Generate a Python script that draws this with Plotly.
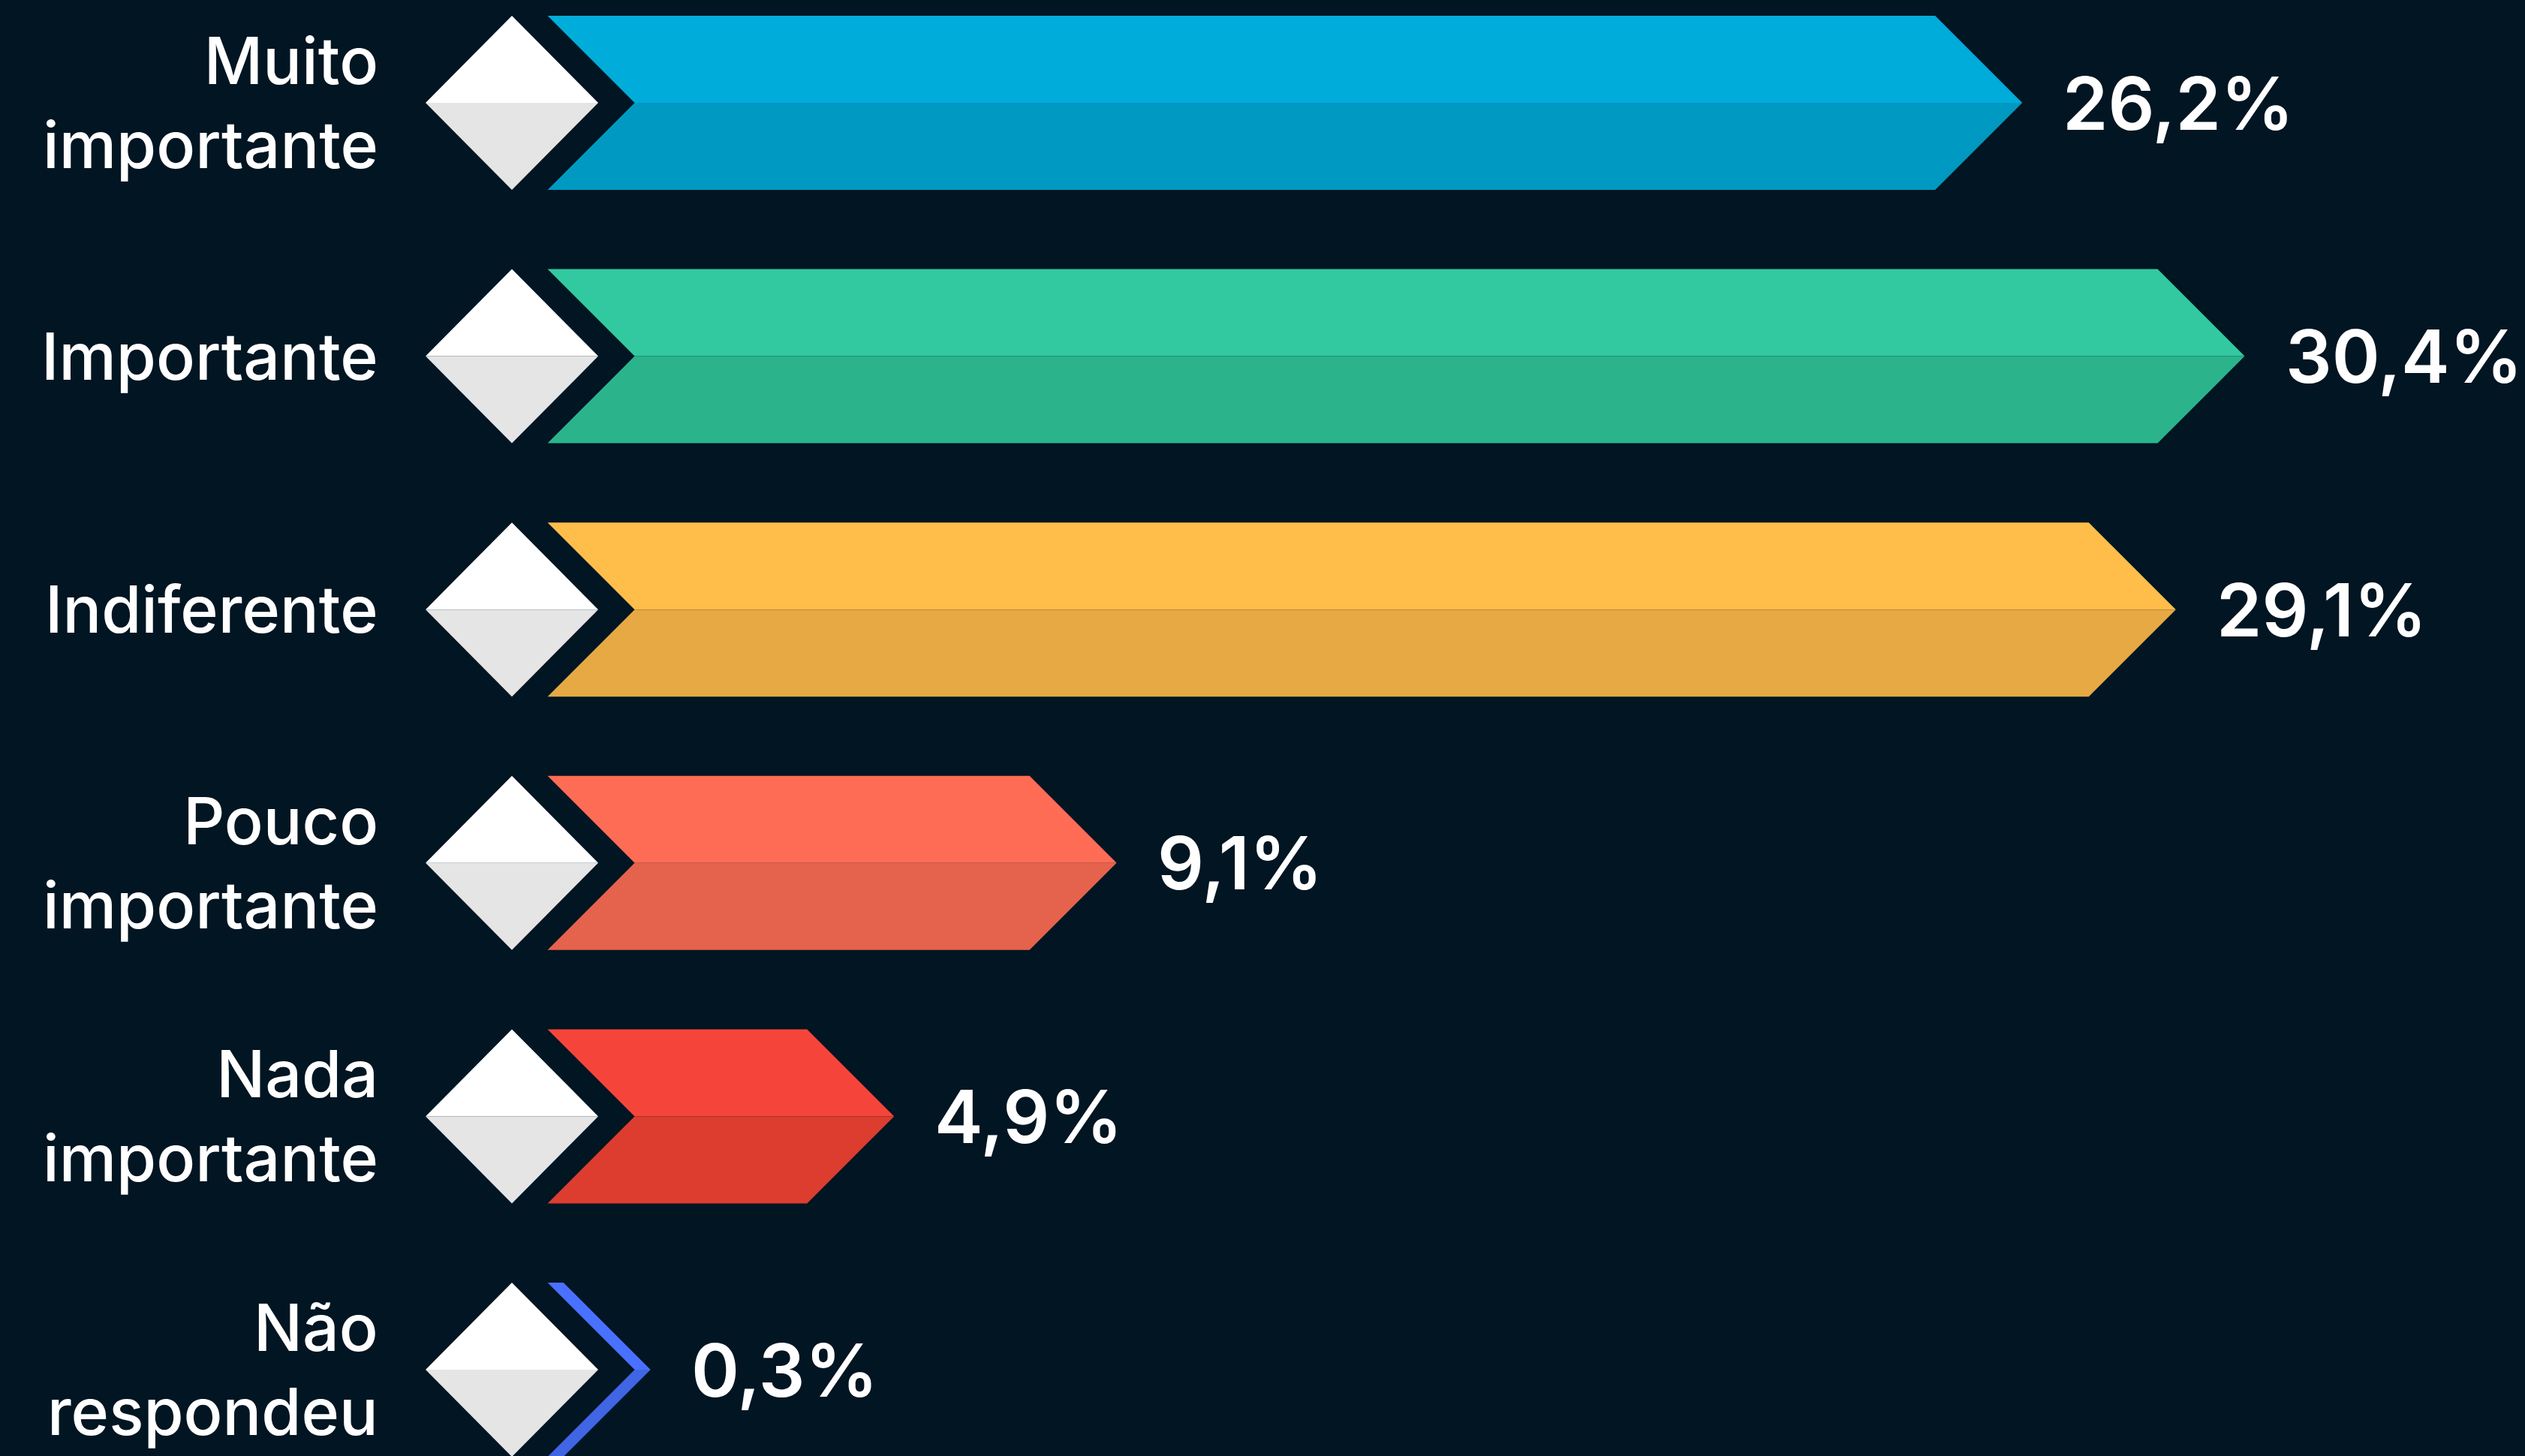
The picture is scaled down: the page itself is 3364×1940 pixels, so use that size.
import plotly.graph_objects as go

# ---- data ----
categories = ["Muito<br>importante", "Importante", "Indiferente",
              "Pouco<br>importante", "Nada<br>importante", "Não<br>respondeu"]
values = [26.2, 30.4, 29.1, 9.1, 4.9, 0.3]
value_labels = ["26,2%", "30,4%", "29,1%", "9,1%", "4,9%", "0,3%"]
top_colors = ["#00ACD9", "#33C9A0", "#FFBD4A", "#FF6C55", "#F5453A", "#4A70FF"]
bottom_colors = ["#0099C2", "#2BB48C", "#E6A943", "#E5624D", "#DC3D2E", "#4065E5"]

# ---- layout constants ----
W, H = 3364, 1940
BG = "#011522"
x0_px = 729.5            # pixel of x = 0
px_per_unit = 70.56      # pixels per percentage point
y0_px = 137.0            # pixel of first row centre
row_px = 337.6           # pixels between rows

x_range = [-x0_px / px_per_unit, (W - x0_px) / px_per_unit]
y_range = [(H - y0_px) / row_px, -y0_px / row_px]  # reversed

half_h = 116 / row_px          # half bar height (y units)
depth = 116 / px_per_unit      # chevron depth (x units)
dia_cx = (682 - x0_px) / px_per_unit
dia_hw = 115 / px_per_unit
label_x = (506 - x0_px) / px_per_unit
gap = 52 / px_per_unit

fig = go.Figure()

def poly(xs, ys, color):
    fig.add_trace(go.Scatter(x=xs + [xs[0]], y=ys + [ys[0]], fill="toself",
                             fillcolor=color, mode="lines",
                             line=dict(width=0, color=color),
                             hoverinfo="skip", showlegend=False))

for i, (cat, v, lab) in enumerate(zip(categories, values, value_labels)):
    yc = i
    # diamond
    poly([dia_cx - dia_hw, dia_cx, dia_cx + dia_hw], [yc, yc - half_h, yc], "#FFFFFF")
    poly([dia_cx - dia_hw, dia_cx + dia_hw, dia_cx], [yc, yc, yc + half_h], "#E5E5E5")
    # chevron bar, top half and bottom half
    poly([0, v, v + depth, depth], [yc - half_h, yc - half_h, yc, yc], top_colors[i])
    poly([depth, v + depth, v, 0], [yc, yc, yc + half_h, yc + half_h], bottom_colors[i])
    # value label
    fig.add_annotation(x=v + depth + gap, y=yc, text=lab, showarrow=False,
                       xanchor="left", yanchor="middle",
                       font=dict(family="Inter, Montserrat, sans-serif", size=97,
                                 color="#FFFFFF", weight=600))
    # category label
    fig.add_annotation(x=label_x, y=yc, text=cat, showarrow=False,
                       xanchor="right", yanchor="middle", align="right",
                       font=dict(family="Inter, Montserrat, sans-serif", size=86,
                                 color="#FFFFFF", weight=500))

fig.update_layout(
    width=W, height=H,
    margin=dict(l=0, r=0, t=0, b=0),
    paper_bgcolor=BG, plot_bgcolor=BG,
    xaxis=dict(range=x_range, visible=False, fixedrange=True),
    yaxis=dict(range=y_range, visible=False, fixedrange=True),
    showlegend=False,
)

fig.write_html("out.html",
               config={"displayModeBar": False},
               post_script="document.body.style.margin='0';"
                           "document.body.style.background='#011522';"
                           "document.body.style.overflow='hidden';")
